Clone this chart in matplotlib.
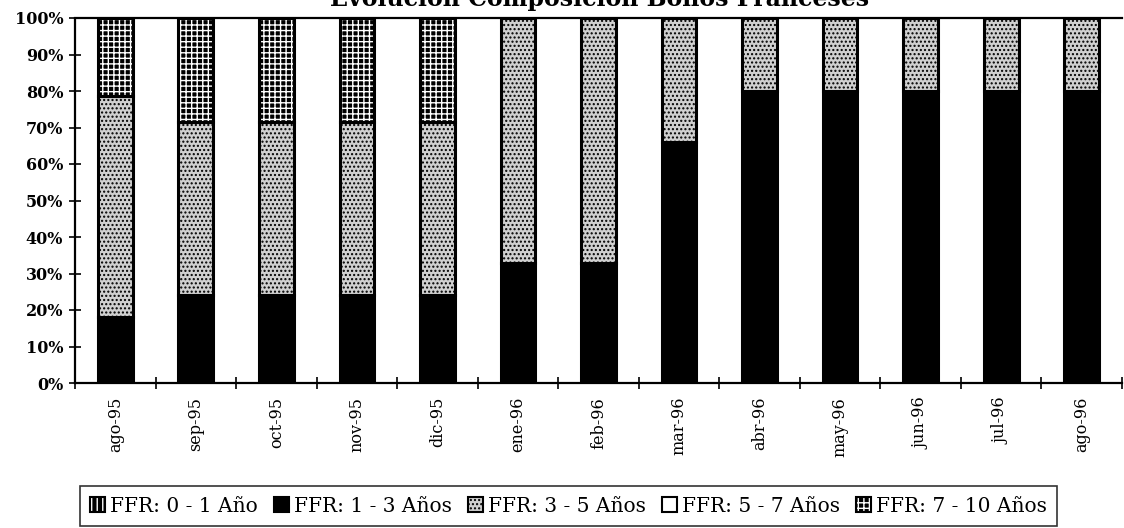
import matplotlib
matplotlib.use("Agg")
import matplotlib.pyplot as plt
import numpy as np
from matplotlib.ticker import PercentFormatter, FixedLocator
from matplotlib.patches import Patch

plt.rcParams['font.family'] = ['DejaVu Serif']
plt.rcParams['hatch.linewidth'] = 1.0

months = ["ago-95", "sep-95", "oct-95", "nov-95", "dic-95", "ene-96", "feb-96",
          "mar-96", "abr-96", "may-96", "jun-96", "jul-96", "ago-96"]
ffr_0_1 = [0, 0, 0, 0, 0, 0, 0, 0, 0, 0, 0, 0, 0]
ffr_1_3 = [18, 24, 24, 24, 24, 33, 33, 66, 80, 80, 80, 80, 80]
ffr_3_5 = [60.5, 47.5, 47.5, 47.5, 47.5, 67, 67, 34, 20, 20, 20, 20, 20]
ffr_5_7 = [0, 0, 0, 0, 0, 0, 0, 0, 0, 0, 0, 0, 0]
ffr_7_10 = [21.5, 28.5, 28.5, 28.5, 28.5, 0, 0, 0, 0, 0, 0, 0, 0]

labels = ["FFR: 0 - 1 Año", "FFR: 1 - 3 Años", "FFR: 3 - 5 Años",
          "FFR: 5 - 7 Años", "FFR: 7 - 10 Años"]
series = [ffr_0_1, ffr_1_3, ffr_3_5, ffr_5_7, ffr_7_10]
styles = [
    dict(facecolor="black", edgecolor="white", hatch="|||"),
    dict(facecolor="black", edgecolor="black", hatch=None),
    dict(facecolor="#d0d0d0", edgecolor="black", hatch="...."),
    dict(facecolor="white", edgecolor="black", hatch=None),
    dict(facecolor="black", edgecolor="white", hatch="+++"),
]

fig = plt.figure(figsize=(11.24, 5.28), dpi=100)
ax = fig.add_axes([75 / 1124, 1 - 383 / 528, 1047 / 1124, 365 / 528])

x = np.arange(len(months))
width = 0.43
bottom = np.zeros(len(months))
for vals, lab, st in zip(series, labels, styles):
    vals = np.array(vals, dtype=float)
    ax.bar(x, vals, width, bottom=bottom, linewidth=0,
           facecolor=st["facecolor"], edgecolor=st["edgecolor"],
           hatch=st["hatch"], label=lab)
    # black outline around every non-empty segment
    outline = np.where(vals > 0, 2.2, 0)
    ax.bar(x, vals, width, bottom=bottom, facecolor="none",
           edgecolor="black", linewidth=outline)
    bottom += vals

ax.set_xlim(-0.5, len(months) - 0.5)
ax.set_ylim(0, 100)
ax.yaxis.set_major_locator(FixedLocator(np.arange(0, 101, 10)))
ax.yaxis.set_major_formatter(PercentFormatter(decimals=0))
ax.set_xticks(x)
ax.set_xticklabels(months, rotation=90, fontsize=11.5)
ax.tick_params(axis="x", which="major", length=0, pad=10)
ax.set_xticks(np.arange(-0.5, len(months) - 0.4, 1), minor=True)
ax.tick_params(axis="x", which="minor", length=8, direction="inout", width=1.2)
ax.tick_params(axis="y", length=9, direction="inout", width=1.2, labelsize=11.5, pad=4)
for t in ax.get_yticklabels():
    t.set_fontweight("bold")

for side in ["left", "bottom", "top"]:
    ax.spines[side].set_linewidth(1.6)
ax.spines["top"].set_linestyle((0, (2, 1)))
ax.spines["left"].set_linestyle((0, (2, 1)))
ax.spines["right"].set_visible(False)

fig.text(0.533, 1 - 6 / 528, "Evolución Composición Bonos Franceses",
         ha="center", va="baseline", fontsize=17, fontweight="bold")

leg_handles = [Patch(facecolor=st["facecolor"], edgecolor=st["edgecolor"],
                     hatch=st["hatch"], linewidth=0) for st in styles]
leg_handles = [(h, Patch(facecolor="none", edgecolor="black", linewidth=1.5))
               for h in leg_handles]
leg = fig.legend(leg_handles, labels, loc="center", ncol=5,
                 bbox_to_anchor=((85 + 1052) / 2 / 1124, 1 - 506 / 528),
                 fontsize=14.5, frameon=True, fancybox=False, edgecolor="black",
                 handlelength=0.75, handleheight=0.75, handletextpad=0.25,
                 columnspacing=0.8, borderpad=0.5, borderaxespad=0)
leg.get_frame().set_linewidth(1.2)

fig.savefig("out.png", dpi=100)
